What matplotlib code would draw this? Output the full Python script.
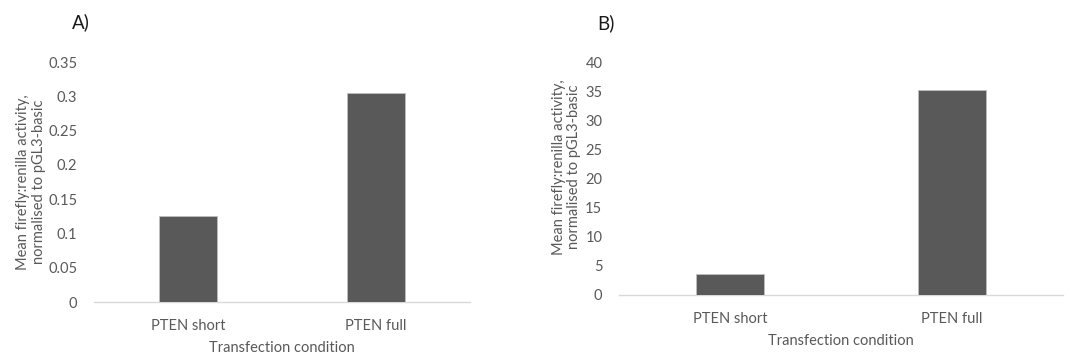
import matplotlib
matplotlib.use("Agg")
import matplotlib.pyplot as plt

categories = ["PTEN short", "PTEN full"]
values_a = [0.1254, 0.3048]
values_b = [3.55, 35.2]
yticks_a = [0, 0.05, 0.1, 0.15, 0.2, 0.25, 0.3, 0.35]
yticklabels_a = ["0", "0.05", "0.1", "0.15", "0.2", "0.25", "0.3", "0.35"]
yticks_b = [0, 5, 10, 15, 20, 25, 30, 35, 40]
ylabel = "Mean firefly:renilla activity,\nnormalised to pGL3-basic"
xlabel = "Transfection condition"

plt.rcParams['font.family'] = ['Lato', 'DejaVu Sans']
TXT = "#595959"
BAR = "#595959"
AX = "#D9D9D9"

fig = plt.figure(figsize=(10.70, 3.58), dpi=100)
axA = fig.add_axes([0.0879, 0.1564, 0.3514, 0.6704])
axB = fig.add_axes([0.5785, 0.176, 0.415, 0.6508])

def style(ax, vals, ymax, ticks, ticklabels, lab_x, lab_y, title, tpos):
    x = list(range(len(categories)))
    ax.bar(x, vals, width=0.31, color=BAR, edgecolor="#BFBFBF", linewidth=0.6, zorder=3)
    ax.set_xlim(-0.5, len(categories) - 0.5)
    ax.set_ylim(0, ymax)
    ax.set_xticks(x)
    ax.set_xticklabels(categories)
    ax.set_yticks(ticks)
    ax.set_yticklabels(ticklabels)
    for s in ["top", "right", "left"]:
        ax.spines[s].set_visible(False)
    ax.spines["bottom"].set_color(AX)
    ax.spines["bottom"].set_linewidth(1.0)
    ax.tick_params(axis="both", length=0, colors=TXT, labelsize=10.5)
    ax.tick_params(axis="y", pad=12)
    ax.tick_params(axis="x", pad=12)
    ax.set_ylabel(ylabel, color=TXT, fontsize=10.5, linespacing=1.15)
    ax.yaxis.set_label_coords(lab_x, lab_y)
    ax.set_xlabel(xlabel, color=TXT, fontsize=10.5, labelpad=6)
    ax.text(tpos[0], tpos[1], title, transform=ax.transAxes, fontsize=13.5,
            color="#1a1a1a", ha="left", va="bottom")

style(axA, values_a, 0.35, yticks_a, yticklabels_a, -0.128, 0.5, "A)", (-0.06, 1.13))
style(axB, values_b, 40, yticks_b, [str(t) for t in yticks_b], -0.085, 0.55, "B)", (-0.048, 1.13))

fig.savefig("out.png", dpi=100)
